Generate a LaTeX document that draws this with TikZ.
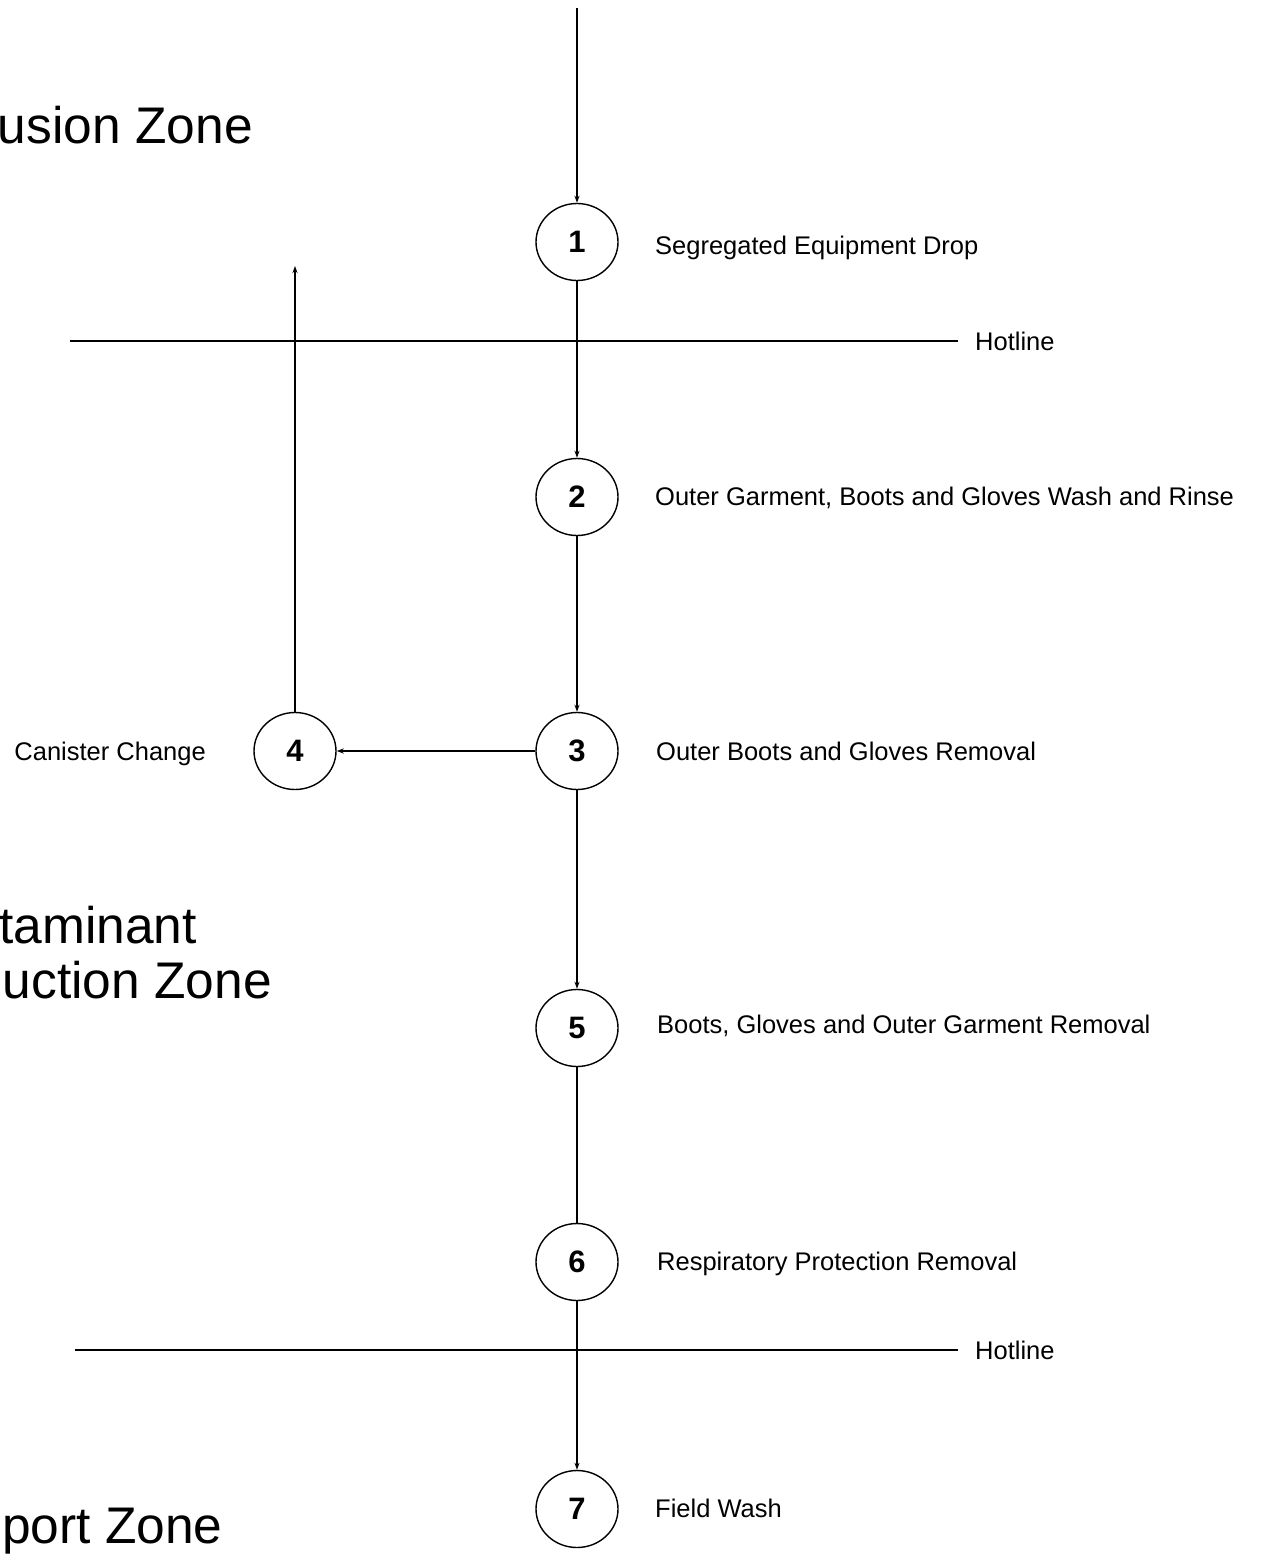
\documentclass[tikz,border=0pt]{standalone}
\usepackage{fontspec}
\setmainfont{Liberation Sans}
\usetikzlibrary{shapes.geometric,arrows.meta}
\begin{document}
\begin{tikzpicture}[x=1pt,y=-1pt,
  stepnode/.style={draw,ellipse,line width=1.4pt,minimum width=82pt,minimum height=77pt,inner sep=0pt,font=\fontsize{31}{33}\selectfont\bfseries},
  lbl/.style={anchor=base west,inner sep=0pt,font=\fontsize{25.5}{28}\selectfont},
  zone/.style={anchor=base east,inner sep=0pt,font=\fontsize{51.5}{56}\selectfont},
  conn/.style={line width=1.5pt},
  arr/.style={conn,-{Stealth[length=7pt,width=5pt]}}]
\useasboundingbox (0,0) rectangle (1261,1560);
\node[stepnode] (n1) at (577,242) {1};
\node[stepnode] (n2) at (577,497) {2};
\node[stepnode] (n3) at (577,751) {3};
\node[stepnode] (n4) at (295,751) {4};
\node[stepnode] (n5) at (577,1028) {5};
\node[stepnode] (n6) at (577,1262) {6};
\node[stepnode] (n7) at (577,1509) {7};
\coordinate (top) at (577,8);
\coordinate (up4) at (295,266);
\draw[arr] (top) -- (n1);
\draw[arr] (n1) -- (n2);
\draw[arr] (n2) -- (n3);
\draw[arr] (n3) -- (n4);
\draw[arr] (n4) -- (up4);
\draw[arr] (n3) -- (n5);
\draw[conn] (n5) -- (n6);
\draw[arr] (n6) -- (n7);
% hotlines
\node[lbl] (h1) at (975,350) {Hotline};
\node[lbl] (h2) at (975,1359) {Hotline};
\coordinate (h1s) at (70,341);
\coordinate (h1e) at (958,341);
\coordinate (h2s) at (75,1350);
\coordinate (h2e) at (958,1350);
\draw[conn] (h1s) -- (h1e);
\draw[conn] (h2s) -- (h2e);
% labels
\node[lbl] (l1) at (655,254) {Segregated Equipment Drop};
\node[lbl] (l2) at (655,505) {Outer Garment, Boots and Gloves Wash and Rinse};
\node[lbl] (l3) at (656,760) {Outer Boots and Gloves Removal};
\node[lbl,anchor=base east] (l4) at (206,760) {Canister Change};
\node[lbl] (l5) at (657,1033) {Boots, Gloves and Outer Garment Removal};
\node[lbl] (l6) at (657,1270) {Respiratory Protection Removal};
\node[lbl] (l7) at (655,1517) {Field Wash};
% zones
\node[zone] (z1) at (253,143) {usion Zone};
\node[zone] (z2a) at (197,943) {taminant};
\node[zone] (z2b) at (272,998) {uction Zone};
\node[zone,anchor=base west] (z3) at (2,1543) {port Zone};
\end{tikzpicture}
\end{document}
